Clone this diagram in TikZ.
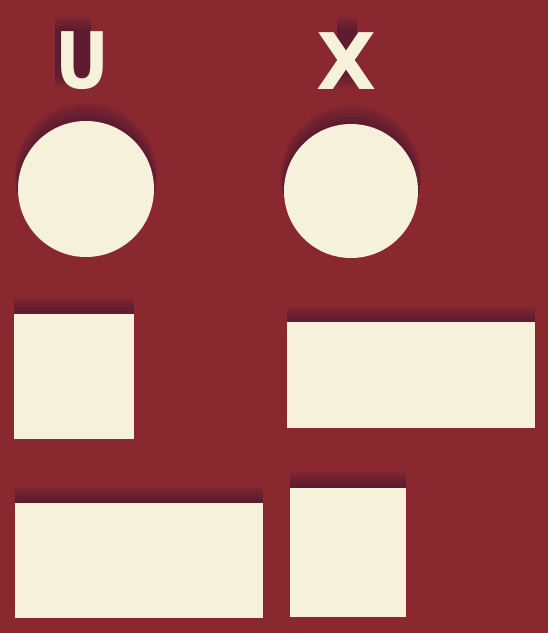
\documentclass[tikz,border=0pt]{standalone}
\usepackage{fontspec}
\setmainfont{DejaVu Sans}
\usepackage{tikz}
\pgfdeclarelayer{backlayer}
\pgfdeclarelayer{shadowlayer}
\pgfdeclarelayer{nodelayer}
\pgfsetlayers{backlayer,shadowlayer,main,nodelayer}
\definecolor{plum}{RGB}{138,40,48}
\definecolor{shade}{RGB}{60,22,50}
\definecolor{cream}{RGB}{246,241,218}
\tikzstyle{disc}=[circle, fill=cream, draw=none, inner sep=0pt]
\tikzstyle{slab}=[rectangle, fill=cream, draw=none, inner sep=0pt]
\tikzstyle{glow}=[fill=shade, opacity=0.14]
\tikzstyle{letter}=[text=cream, inner sep=0pt, font=\bfseries\fontsize{78}{78}\selectfont]

\begin{document}
\begin{tikzpicture}[x=1pt, y=-1pt]
				\begin{pgfonlayer}{backlayer}
					\fill [plum] (0, 0) rectangle (548, 633);
				\end{pgfonlayer}
				\useasboundingbox (0, 0) rectangle (548, 633);
				\begin{pgfonlayer}{nodelayer}
					\node [style=letter, xscale=0.85] (lu) at (82, 61) {U};
					\node [style=letter] (lx) at (347, 61) {X};
					\node [style=disc, minimum size=136pt] (cu) at (86, 189) {};
					\node [style=disc, minimum size=134pt] (cx) at (351, 191) {};
					\node [style=slab, minimum width=120pt, minimum height=125pt] (ru) at (74, 376) {};
					\node [style=slab, minimum width=248pt, minimum height=106pt] (rx) at (411, 375) {};
					\node [style=slab, minimum width=248pt, minimum height=115pt] (su) at (139, 560) {};
					\node [style=slab, minimum width=116pt, minimum height=129pt] (sx) at (348, 552) {};
				\end{pgfonlayer}
				\begin{pgfonlayer}{shadowlayer}
					\foreach \s in {3,6,9,12,15} {
						\fill [style=glow] ([yshift=\s pt]cu.center) circle (68+\s/5);
						\fill [style=glow] ([yshift=\s pt]cx.center) circle (67+\s/5);
						\fill [style=glow] ([yshift=\s pt]ru.south west) rectangle ([yshift=\s pt]ru.north east);
						\fill [style=glow] ([yshift=\s pt]rx.south west) rectangle ([yshift=\s pt]rx.north east);
						\fill [style=glow] ([yshift=\s pt]su.south west) rectangle ([yshift=\s pt]su.north east);
						\fill [style=glow] ([yshift=\s pt]sx.south west) rectangle ([yshift=\s pt]sx.north east);
						\fill [style=glow] ([yshift=\s pt]lu.south west) rectangle ([yshift=\s pt, xshift=-18pt]lu.north east);
						\fill [style=glow] ([yshift=\s pt, xshift=20pt]lx.south west) rectangle ([yshift=\s pt, xshift=-20pt]lx.north east);
					}
				\end{pgfonlayer}
			\end{tikzpicture}
\end{document}
